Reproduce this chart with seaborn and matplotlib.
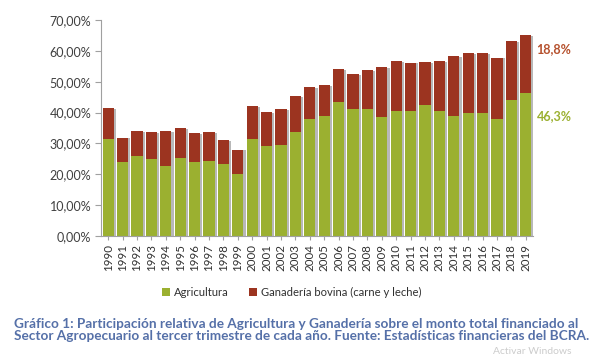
import matplotlib
matplotlib.use("Agg")
import matplotlib.pyplot as plt
import matplotlib.patheffects as pe
from matplotlib.patches import Patch
import seaborn as sns
import pandas as pd

years = [str(y) for y in range(1990, 2020)]
agricultura = [31.3, 23.9, 25.8, 25.1, 22.7, 25.2, 24.1, 24.4, 23.3, 20.1,
               31.4, 29.1, 29.5, 33.8, 38.0, 39.0, 43.4, 41.3, 41.0, 38.6,
               40.4, 40.6, 42.6, 40.6, 39.0, 39.8, 39.8, 38.0, 44.1, 46.3]
total = [41.4, 31.9, 34.1, 33.8, 34.0, 35.1, 33.4, 33.6, 31.0, 28.0,
         42.2, 40.2, 41.0, 45.4, 48.2, 48.8, 54.2, 52.5, 53.9, 54.8,
         56.6, 56.2, 56.4, 56.6, 58.3, 59.4, 59.4, 57.8, 63.2, 65.1]
ganaderia = [round(t - a, 1) for t, a in zip(total, agricultura)]
y_ticks = [0, 10, 20, 30, 40, 50, 60, 70]
y_tick_labels = ["0,00%", "10,00%", "20,00%", "30,00%", "40,00%", "50,00%", "60,00%", "70,00%"]
last_labels = ["18,8%", "46,3%"]
legend_labels = ["Agricultura", "Ganadería bovina (carne y leche)"]
caption = ("Gráfico 1: Participación relativa de Agricultura y Ganadería sobre el monto total financiado al\n"
           "Sector Agropecuario al tercer trimestre de cada año. Fuente: Estadísticas financieras del BCRA.")

GREEN = "#9bb030"
RED = "#9c3420"
BLUE = "#5570a8"

sns.set_theme(style="white")
plt.rcParams["font.family"] = ["Lato", "DejaVu Sans"]

df = pd.DataFrame({"year": years, "agri": agricultura, "total": total})

fig = plt.figure(figsize=(6.02, 3.58), dpi=100)
ax = fig.add_axes([101 / 602, 1 - 236 / 358, 432 / 602, 216 / 358])

sns.barplot(data=df, x="year", y="total", color=RED, saturation=1, width=0.78, ax=ax)
sns.barplot(data=df, x="year", y="agri", color=GREEN, saturation=1, width=0.78, ax=ax)

shadow = [pe.SimplePatchShadow(offset=(1.6, -0.6), shadow_rgbFace="#9a9a9a", alpha=0.7), pe.Normal()]
n = len(years)
for i, p in enumerate(ax.patches):
    p.set_linewidth(0)
    if i < n:
        p.set_path_effects(shadow)

ax.set_xlim(-0.5, n - 0.5)
ax.set_ylim(0, 70)
ax.set_yticks(y_ticks)
ax.set_yticklabels(y_tick_labels)
ax.set_xlabel("")
ax.set_ylabel("")
ax.tick_params(axis="y", left=True, length=4, width=0.8, color="#a0a0a0",
               labelsize=9, labelcolor="#404040", pad=3)
ax.tick_params(axis="x", bottom=True, length=3, width=0.8, color="#a0a0a0",
               labelsize=8.3, labelcolor="#303030", rotation=90, pad=3)
for s in ["top", "right"]:
    ax.spines[s].set_visible(False)
for s in ["left", "bottom"]:
    ax.spines[s].set_color("#a0a0a0")
    ax.spines[s].set_linewidth(0.8)

ax.text(n - 0.5 + 0.25, total[-1] - 4.5, last_labels[0], color="#b5502c",
        fontsize=9, fontweight="bold", ha="left", va="center", clip_on=False)
ax.text(n - 0.5 + 0.25, agricultura[-1] - 7.4, last_labels[1], color=GREEN,
        fontsize=9, fontweight="bold", ha="left", va="center", clip_on=False)

handles = [Patch(facecolor=GREEN, edgecolor="none"), Patch(facecolor=RED, edgecolor="none")]
fig.legend(handles, legend_labels, loc="center", bbox_to_anchor=(292 / 602, 1 - 292 / 358),
           ncol=2, frameon=False, fontsize=8.1, handlelength=0.7, handleheight=0.7,
           handletextpad=0.35, columnspacing=1.8, labelcolor="#303030")

fig.text(14 / 602, 1 - 330 / 358, caption, color=BLUE, fontsize=9.8, fontweight="bold",
         ha="left", va="center", linespacing=1.0)
fig.text(493 / 602, 1 - 351 / 358, "Activar Windows", color="#cccccc", fontsize=7.5,
         ha="left", va="center")

fig.savefig("out.png", dpi=100, facecolor="white")
